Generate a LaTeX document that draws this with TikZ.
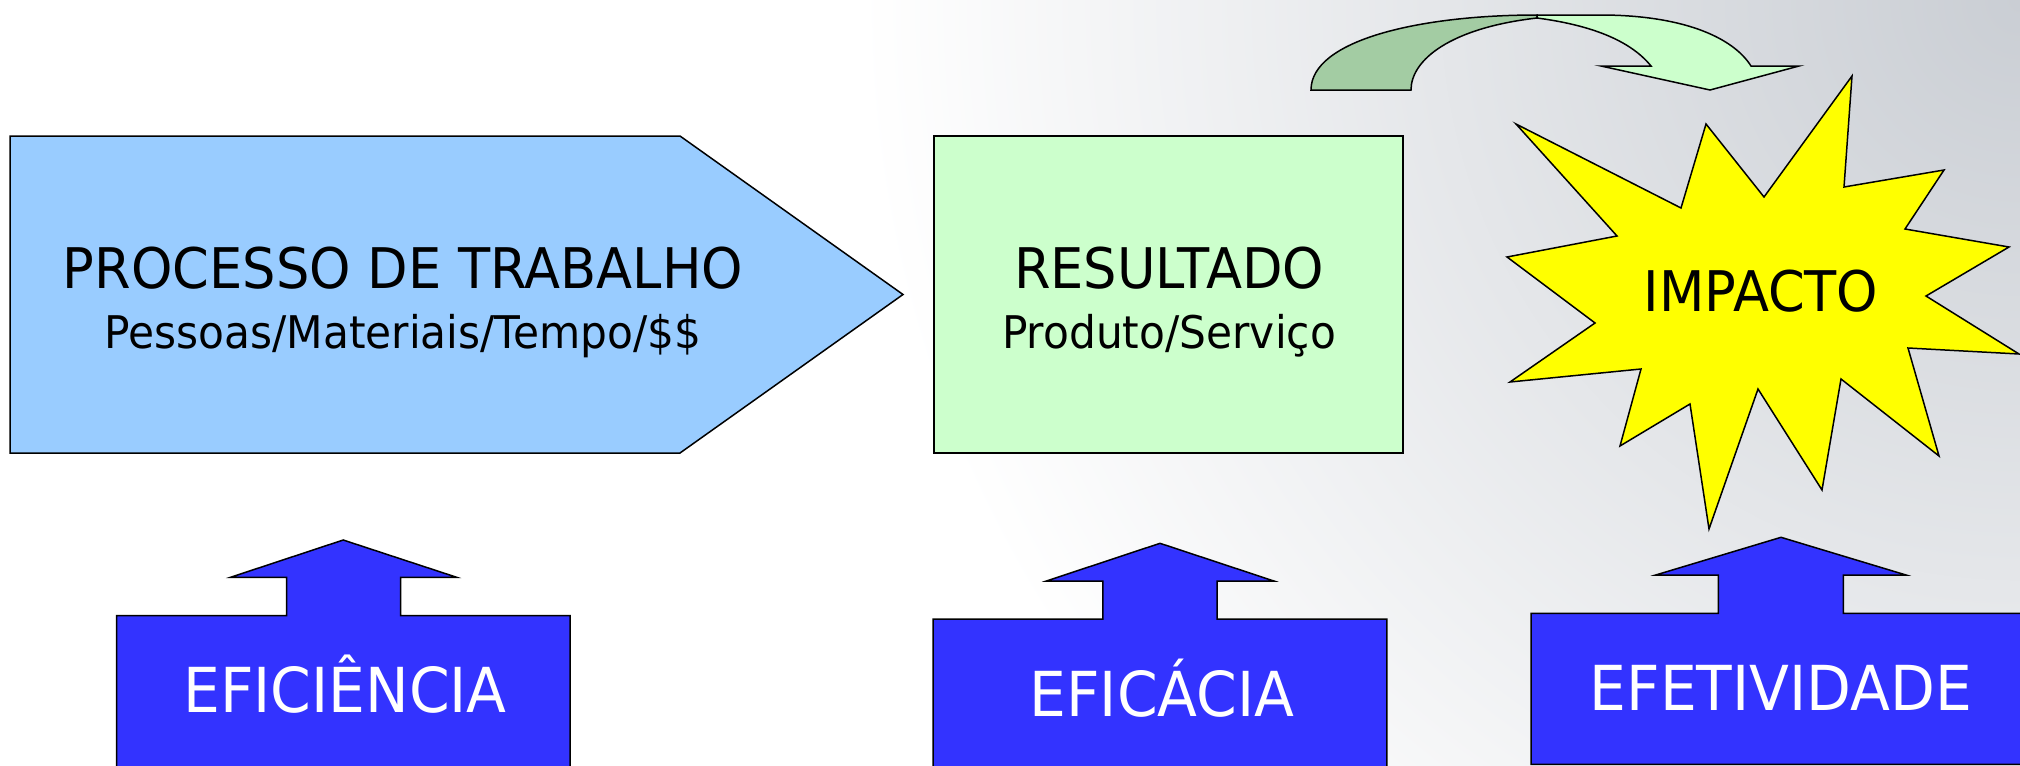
\documentclass[tikz,border=0pt]{standalone}
\usepackage{fontspec}
\setmainfont{DejaVu Sans}[FakeStretch=0.94]
\usetikzlibrary{positioning}

\definecolor{procblue}{HTML}{99CCFF}
\definecolor{resgreen}{HTML}{CCFFCC}
\definecolor{backgreen}{HTML}{A3CCA3}
\definecolor{impyellow}{HTML}{FFFF00}
\definecolor{callblue}{HTML}{3333FF}
\definecolor{bggrey}{HTML}{CACED4}

\begin{document}
\begin{tikzpicture}[x=0.5pt,y=-0.5pt,
    outline/.style={draw=black,line width=0.75pt,line join=miter},
    bigtext/.style={font=\fontsize{28}{28}\selectfont,anchor=base,inner sep=0pt},
    subtext/.style={font=\fontsize{22.5}{22.5}\selectfont,anchor=base,inner sep=0pt},
    calltext/.style={font=\fontsize{31}{31}\selectfont,text=white,anchor=base,inner sep=0pt}]
  \useasboundingbox (0,0) rectangle (2020,766);
  \clip (0,0) rectangle (2020,766);
  % background
  \fill[white] (0,0) rectangle (2020,766);
  \shade[inner color=bggrey,outer color=white] (2020,0) circle (580pt);

  % processo / resultado
  \draw[outline,fill=procblue] (10,136) -- (680,136) -- (903,294.5) -- (680,453) -- (10,453) -- cycle;
  \draw[outline,fill=resgreen] (934,136) rectangle (1403,453);
  \node[bigtext] (proc) at (403,288) {PROCESSO DE TRABALHO};
  \node[subtext] (procsub) at (403,348) {Pessoas/Materiais/Tempo/\$\$};
  \node[bigtext] (res) at (1169,288) {RESULTADO};
  \node[subtext] (ressub) at (1169,348) {Produto/Serviço};

  % curved arrow
  \draw[outline,fill=backgreen] (1311,90) .. controls (1311,40) and (1420,15) .. (1537,15)
    -- (1537,18) .. controls (1450,28) and (1411,60) .. (1411,90) -- cycle;
  \draw[outline,fill=resgreen] (1537,15) -- (1600,15) .. controls (1680,15) and (1732,36) .. (1751,66)
    -- (1799,66) -- (1710,90) -- (1601,66) -- (1651,66)
    .. controls (1630,40) and (1590,25) .. (1537,18) -- cycle;

  % impacto
  \draw[outline,fill=impyellow] (1516,124) -- (1617,236) -- (1507,257) -- (1595,323)
    -- (1510,382) -- (1641,369) -- (1620,446) -- (1690,404) -- (1709,529)
    -- (1758,389) -- (1822,490) -- (1841,379) -- (1939,456) -- (1908,348)
    -- (2019,354) -- (1926,296) -- (2009,247) -- (1905,229) -- (1944,170)
    -- (1844,187) -- (1852,76) -- (1764,197) -- (1706,124) -- (1681,208) -- cycle;
  \node[bigtext] (imp) at (1761,311.5) {IMPACTO};

  % callouts
  \draw[outline,fill=callblue] (116.6,790) -- (116.6,615.7) -- (286.7,615.7) -- (286.7,577.3)
    -- (230.5,577.3) -- (343.2,540) -- (456.7,577.3) -- (400.5,577.3) -- (400.5,615.7)
    -- (570.2,615.7) -- (570.2,790) -- cycle;
  \node[calltext] (efic) at (345,712.7) {EFICIÊNCIA};

  \draw[outline,fill=callblue] (933.2,790) -- (933.2,619) -- (1102.9,619) -- (1102.9,581)
    -- (1046.4,581) -- (1160,543.3) -- (1273.9,581) -- (1217.1,581) -- (1217.1,619)
    -- (1386.8,619) -- (1386.8,790) -- cycle;
  \node[calltext] (eficacia) at (1162,716) {EFICÁCIA};

  \draw[outline,fill=callblue] (1531,764.3) -- (1531,613.3) -- (1718.3,613.3) -- (1718.3,575)
    -- (1655.7,575) -- (1781,537.3) -- (1906,575) -- (1843.3,575) -- (1843.3,613.3)
    -- (2045,613.3) -- (2045,764.3) -- cycle;
  \node[calltext] (efet) at (1781,710.7) {EFETIVIDADE};
\end{tikzpicture}
\end{document}
